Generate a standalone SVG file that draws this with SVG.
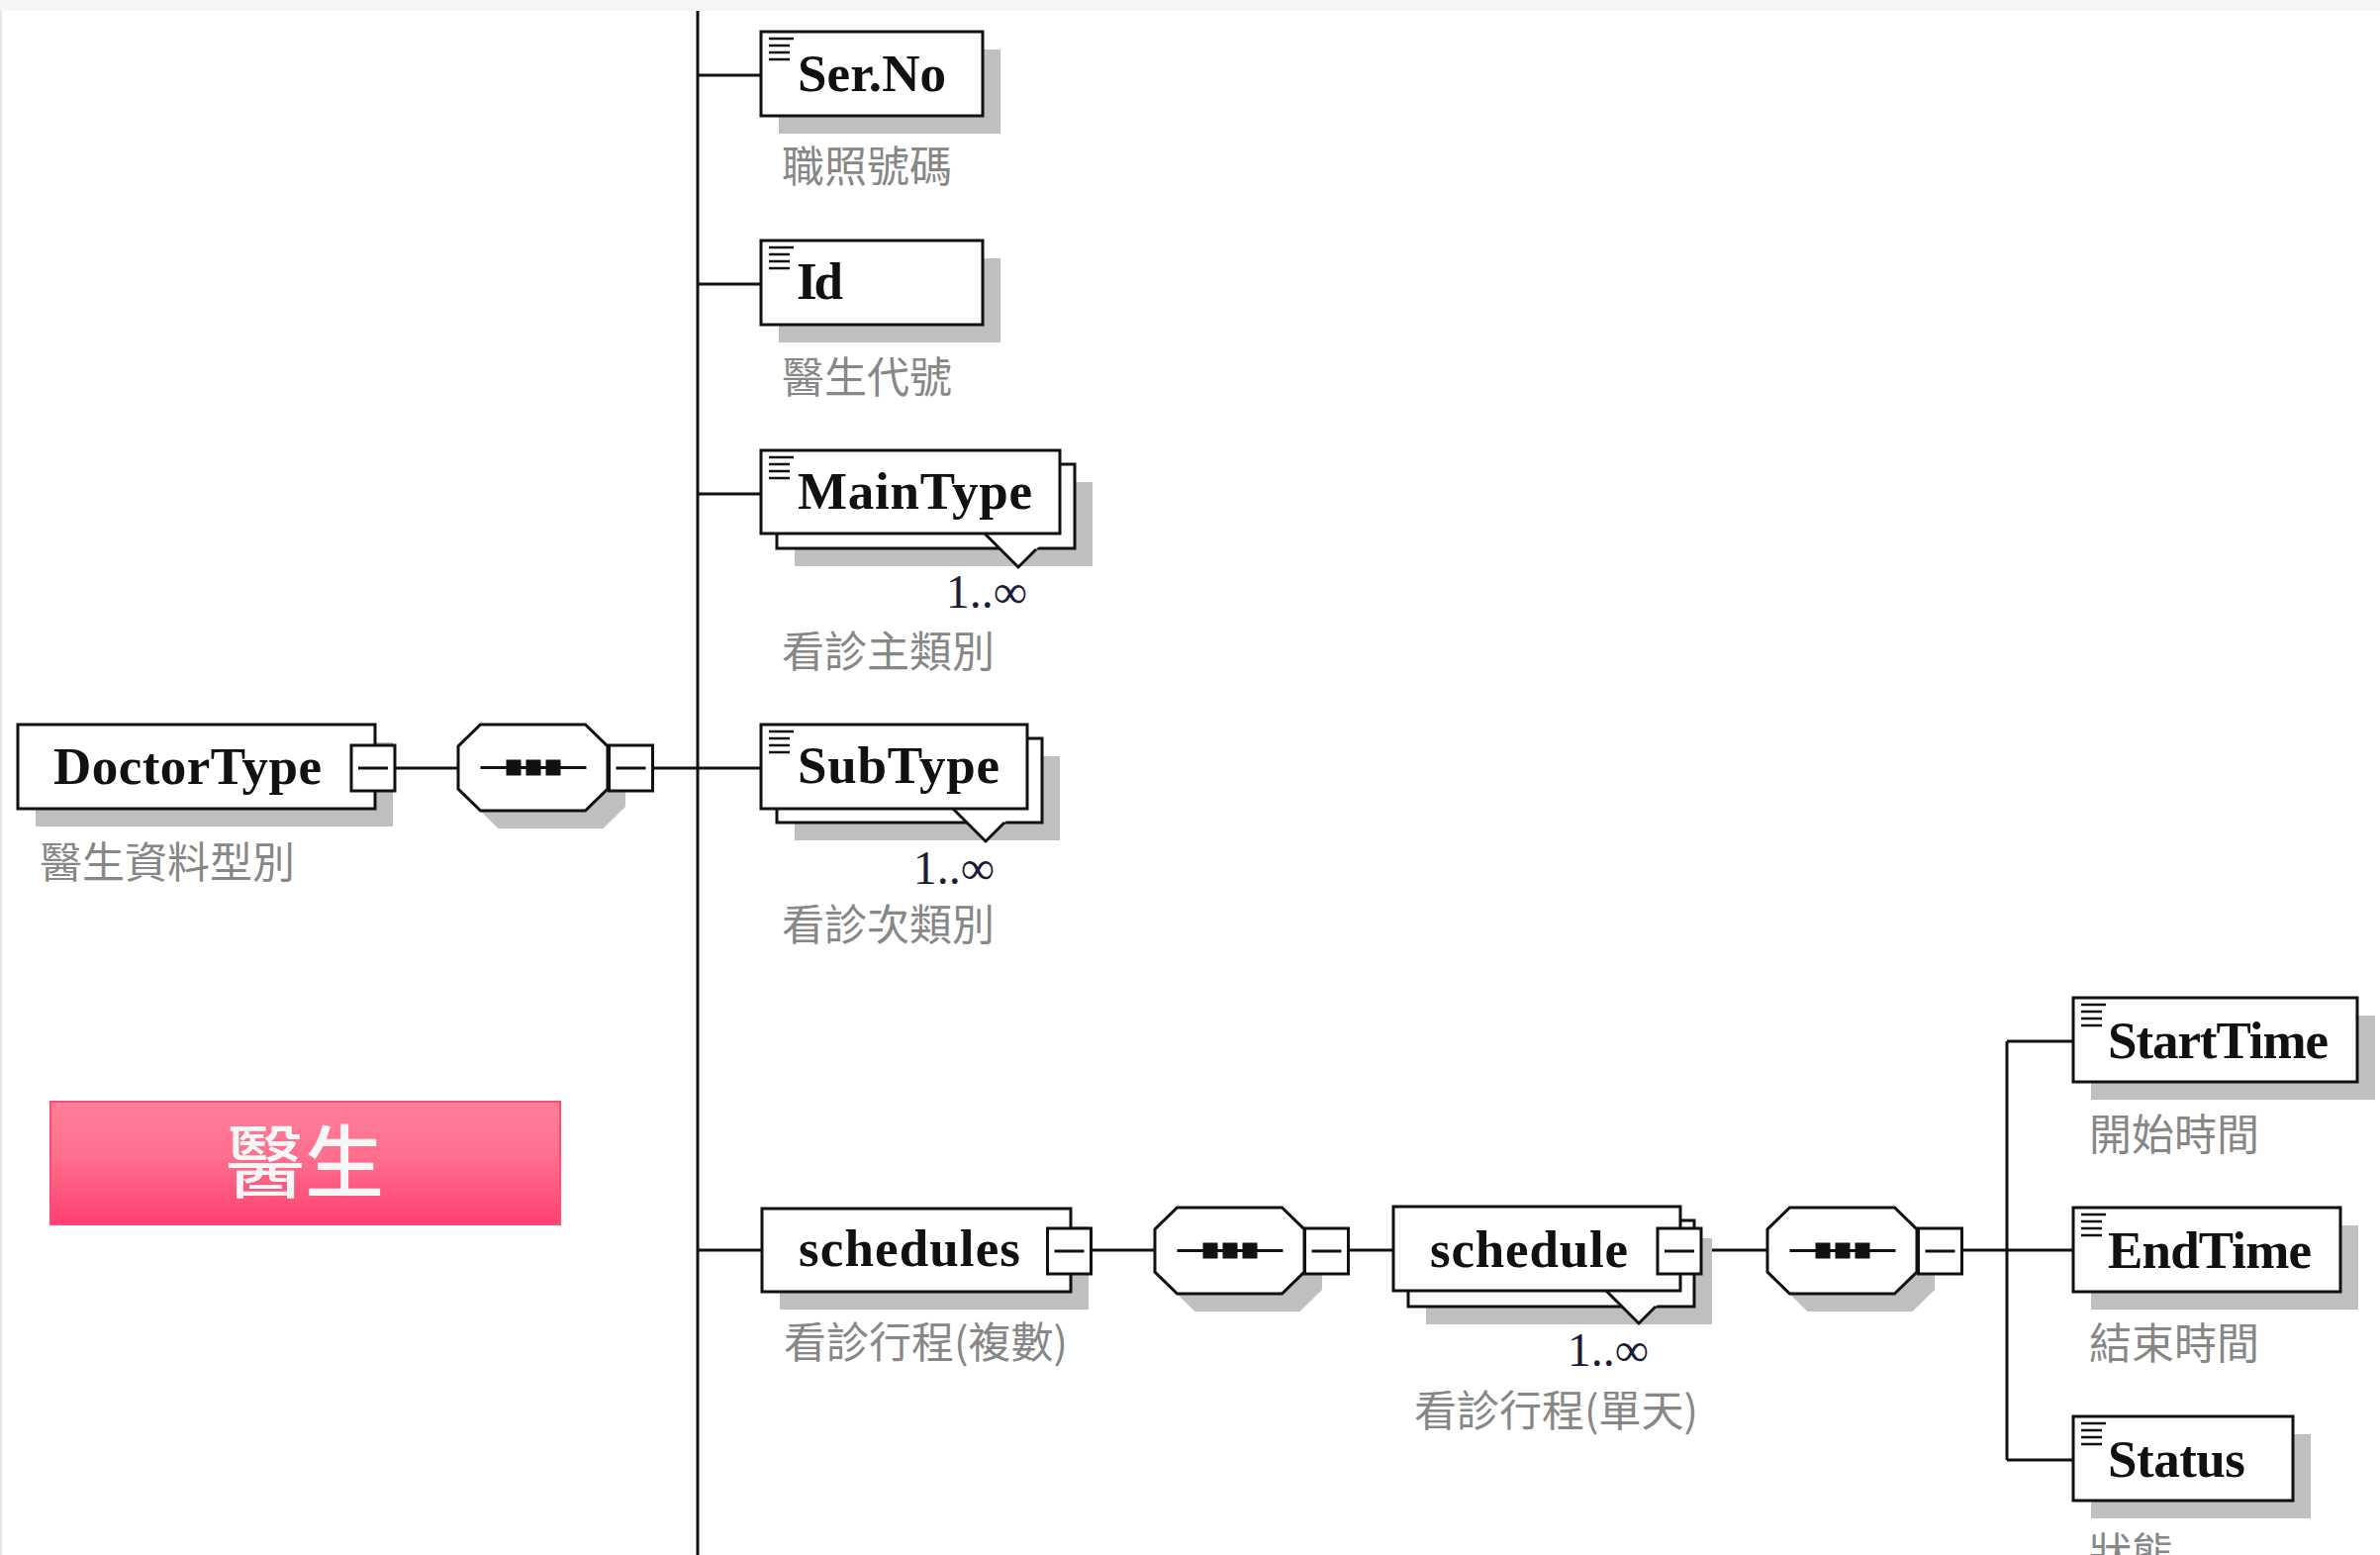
<svg xmlns="http://www.w3.org/2000/svg" xmlns:xlink="http://www.w3.org/1999/xlink" width="2405" height="1571" viewBox="0 0 2405 1571">
<defs>
<style>
.bg{fill:#ffffff}
.band{fill:#f5f5f5}
.box{fill:#ffffff;stroke:#111;stroke-width:3}
.shadow{fill:#bfbfbf}
.conn{stroke:#111;stroke-width:3;fill:none}
.name{font-family:"Liberation Serif",serif;font-weight:bold;font-size:53px;fill:#111}
.desc{font-family:"Noto Sans CJK TC","Noto Sans CJK SC",sans-serif;font-size:43px;fill:#878787}
.occ{font-family:"Liberation Serif",serif;font-size:48px;fill:#1c1c38}
.title{font-family:"Noto Sans CJK TC","Noto Sans CJK SC",sans-serif;font-size:80px;fill:#f7f7f7;font-weight:500}
.vfill{fill:#ffffff;stroke:none}
</style>
<linearGradient id="pink" x1="0" y1="0" x2="0" y2="1">
<stop offset="0" stop-color="#ff7f99"/>
<stop offset="0.45" stop-color="#ff6f8d"/>
<stop offset="1" stop-color="#ff3f71"/>
</linearGradient>
<g id="icon">
<line x1="8" y1="7" x2="33" y2="7" stroke="#111" stroke-width="2.5"/>
<line x1="8" y1="14" x2="29" y2="14" stroke="#111" stroke-width="2.5"/>
<line x1="8" y1="21" x2="29" y2="21" stroke="#111" stroke-width="2.5"/>
<line x1="8" y1="28" x2="29" y2="28" stroke="#111" stroke-width="2.5"/>
</g>
<g id="minus">
<rect x="-22" y="-23" width="44" height="46" class="box"/>
<line x1="-15" y1="0" x2="15" y2="0" stroke="#111" stroke-width="3"/>
</g>
<polygon id="octshape" points="-53,-43.5 53,-43.5 75.5,-21.5 75.5,21.5 53,43.5 -53,43.5 -75.5,21.5 -75.5,-21.5"/>
<g id="seq">
<use xlink:href="#octshape" transform="translate(18,18)" class="shadow"/>
<use xlink:href="#octshape" class="box"/>
<line x1="-53" y1="0" x2="54" y2="0" stroke="#111" stroke-width="3"/>
<rect x="-27" y="-8" width="15" height="16" fill="#111"/>
<rect x="-7" y="-8" width="15" height="16" fill="#111"/>
<rect x="13" y="-8" width="15" height="16" fill="#111"/>
</g>
</defs>

<rect x="0" y="0" width="2405" height="1571" class="bg"/>
<rect x="0" y="0" width="2405" height="11" class="band"/>
<line x1="1" y1="11" x2="1" y2="1571" stroke="#e6e6e6" stroke-width="2"/>

<g id="connectors">
<line x1="705" y1="11" x2="705" y2="1571" class="conn"/>
<line x1="399" y1="776" x2="463" y2="776" class="conn"/>
<line x1="659" y1="776" x2="769" y2="776" class="conn"/>
<line x1="705" y1="76" x2="769" y2="76" class="conn"/>
<line x1="705" y1="287" x2="769" y2="287" class="conn"/>
<line x1="705" y1="499" x2="769" y2="499" class="conn"/>
<line x1="705" y1="1263" x2="770" y2="1263" class="conn"/>
<line x1="1103" y1="1263" x2="1167" y2="1263" class="conn"/>
<line x1="1362" y1="1263" x2="1408" y2="1263" class="conn"/>
<line x1="1720" y1="1263" x2="1787" y2="1263" class="conn"/>
<line x1="1982" y1="1263" x2="2095" y2="1263" class="conn"/>
<line x1="2028" y1="1052" x2="2028" y2="1475" class="conn"/>
<line x1="2028" y1="1052" x2="2095" y2="1052" class="conn"/>
<line x1="2028" y1="1475" x2="2095" y2="1475" class="conn"/>
</g>

<g id="node-doctortype">
<rect x="36" y="750" width="361" height="85" class="shadow"/>
<rect x="18" y="732" width="361" height="85" class="box"/>
<text x="54" y="792" class="name" textLength="271">DoctorType</text>
<use xlink:href="#minus" transform="translate(377,776)"/>
<text x="40" y="887" class="desc">醫生資料型別</text>
</g>

<g id="node-seq1">
<use xlink:href="#seq" transform="translate(538.5,775.5)"/>
<use xlink:href="#minus" transform="translate(637.5,776)"/>
</g>

<g id="node-serno">
<rect x="787" y="50" width="224" height="85" class="shadow"/>
<rect x="769" y="32" width="224" height="85" class="box"/>
<use xlink:href="#icon" transform="translate(769,32)"/>
<text x="806" y="92" class="name" textLength="150">Ser.No</text>
<text x="790" y="184" class="desc">職照號碼</text>
</g>

<g id="node-id">
<rect x="787" y="261" width="224" height="85" class="shadow"/>
<rect x="769" y="243" width="224" height="85" class="box"/>
<use xlink:href="#icon" transform="translate(769,243)"/>
<text x="805" y="302" class="name" textLength="47">Id</text>
<text x="790" y="397" class="desc">醫生代號</text>
</g>

<g id="node-maintype">
<rect x="803" y="487" width="301" height="85" class="shadow"/>
<rect x="785" y="469" width="301" height="85" class="box"/>
<polygon points="995,539 1029,573 1063,539" class="vfill"/>
<polyline points="995,539 1029,573 1047,555" class="conn"/>
<rect x="769" y="455" width="302" height="84" class="box"/>
<use xlink:href="#icon" transform="translate(769,455)"/>
<text x="806" y="514" class="name" textLength="237">MainType</text>
<text x="1038" y="614" class="occ" text-anchor="end">1..∞</text>
<text x="790" y="674" class="desc">看診主類別</text>
</g>

<g id="node-subtype">
<rect x="803" y="764" width="268" height="85" class="shadow"/>
<rect x="785" y="746" width="268" height="85" class="box"/>
<polygon points="963,817 996,850 1029,817" class="vfill"/>
<polyline points="963,817 996,850 1015,831" class="conn"/>
<rect x="769" y="732" width="269" height="85" class="box"/>
<use xlink:href="#icon" transform="translate(769,732)"/>
<text x="806" y="791" class="name" textLength="204">SubType</text>
<text x="1005" y="893" class="occ" text-anchor="end">1..∞</text>
<text x="790" y="950" class="desc">看診次類別</text>
</g>

<g id="node-schedules">
<rect x="788" y="1239" width="312" height="84" class="shadow"/>
<rect x="770" y="1221" width="312" height="84" class="box"/>
<text x="807" y="1279" class="name" textLength="224">schedules</text>
<use xlink:href="#minus" transform="translate(1080.5,1264)"/>
<text x="792" y="1372" class="desc">看診行程(複數)</text>
</g>

<g id="node-seq2">
<use xlink:href="#seq" transform="translate(1242.5,1263.5)"/>
<use xlink:href="#minus" transform="translate(1340.5,1264)"/>
</g>

<g id="node-schedule">
<rect x="1441" y="1251" width="289" height="87" class="shadow"/>
<rect x="1423" y="1233" width="289" height="87" class="box"/>
<polygon points="1623,1304 1656,1337 1689,1304" class="vfill"/>
<polyline points="1623,1304 1656,1337 1673,1320" class="conn"/>
<rect x="1408" y="1219" width="290" height="85" class="box"/>
<text x="1445" y="1280" class="name" textLength="200">schedule</text>
<use xlink:href="#minus" transform="translate(1697,1264)"/>
<text x="1666" y="1380" class="occ" text-anchor="end">1..∞</text>
<text x="1429" y="1441" class="desc">看診行程(單天)</text>
</g>

<g id="node-seq3">
<use xlink:href="#seq" transform="translate(1861.5,1263.5)"/>
<use xlink:href="#minus" transform="translate(1960.5,1264)"/>
</g>

<g id="node-starttime">
<rect x="2113" y="1026" width="287" height="85" class="shadow"/>
<rect x="2095" y="1008" width="287" height="85" class="box"/>
<use xlink:href="#icon" transform="translate(2095,1008)"/>
<text x="2130" y="1069" class="name" textLength="223">StartTime</text>
<text x="2111" y="1162" class="desc">開始時間</text>
</g>

<g id="node-endtime">
<rect x="2113" y="1238" width="270" height="85" class="shadow"/>
<rect x="2095" y="1220" width="270" height="85" class="box"/>
<use xlink:href="#icon" transform="translate(2095,1220)"/>
<text x="2130" y="1281" class="name" textLength="206">EndTime</text>
<text x="2111" y="1373" class="desc">結束時間</text>
</g>

<g id="node-status">
<rect x="2113" y="1449" width="222" height="85" class="shadow"/>
<rect x="2095" y="1431" width="222" height="85" class="box"/>
<use xlink:href="#icon" transform="translate(2095,1431)"/>
<text x="2130" y="1492" class="name" textLength="139">Status</text>
<text x="2111" y="1585" class="desc">狀態</text>
</g>

<g id="node-title">
<rect x="51" y="1113" width="515" height="124" fill="url(#pink)" stroke="#ff4a7a" stroke-width="2"/>
<text x="308" y="1203" class="title" text-anchor="middle">醫生</text>
</g>
</svg>
